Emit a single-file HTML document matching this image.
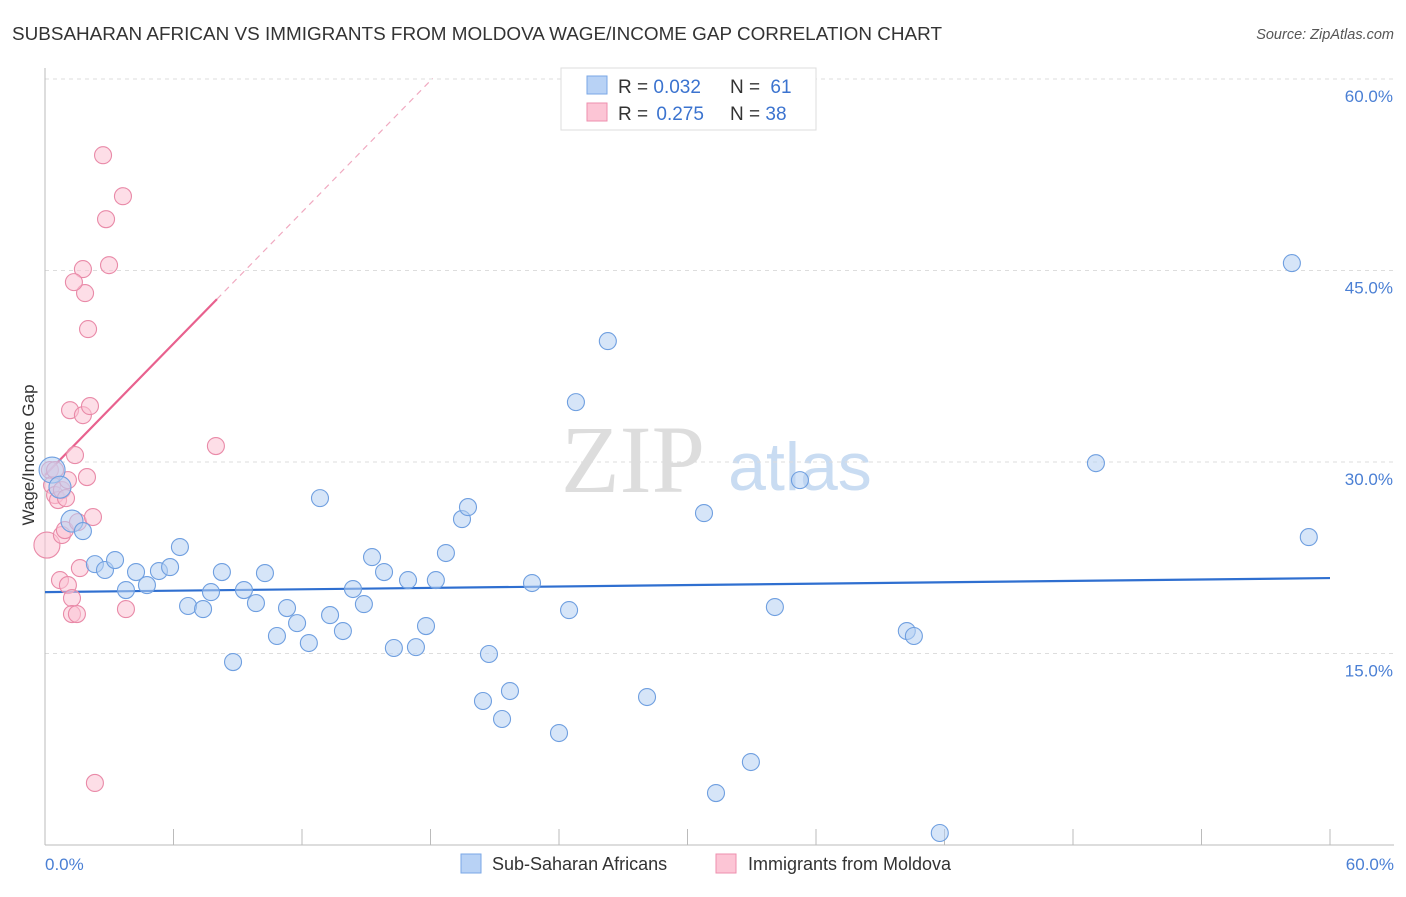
<!DOCTYPE html>
<html><head><meta charset="utf-8"><style>
body{margin:0;background:#fff;font-family:"Liberation Sans",sans-serif;}
svg text{font-family:"Liberation Sans",sans-serif;}
</style></head><body>
<svg id="chart" width="1406" height="892" viewBox="0 0 1406 892">
<text x="12" y="40" font-size="18" fill="#333" textLength="930" lengthAdjust="spacingAndGlyphs">SUBSAHARAN AFRICAN VS IMMIGRANTS FROM MOLDOVA WAGE/INCOME GAP CORRELATION CHART</text>
<text x="1394" y="39" font-size="14.5" fill="#555" font-style="italic" text-anchor="end">Source: ZipAtlas.com</text>
<text x="633" y="492" font-size="96" fill="#ddd" text-anchor="middle" style="font-family:'Liberation Serif',serif">ZIP</text>
<text x="800" y="490" font-size="68" fill="#c9dcf2" text-anchor="middle">atlas</text>
<g id="grid"></g>
<g id="axes"></g>
<g id="trends"></g>
<g id="points"></g>
<text transform="translate(34,455) rotate(-90)" font-size="17" fill="#333" text-anchor="middle">Wage/Income Gap</text>
<text x="45" y="870" font-size="17" fill="#4a7fd4">0.0%</text>
<text x="1394" y="870" font-size="17" fill="#4a7fd4" text-anchor="end">60.0%</text>
<g>
<rect x="561" y="68" width="255" height="62" fill="#fff" stroke="#ddd"/>
<rect x="587" y="76" width="20" height="18" fill="#b8d2f5" stroke="#7aa7e6"/>
<rect x="587" y="103" width="20" height="18" fill="#fcc5d5" stroke="#ee8fae"/>
<text x="618" y="93" font-size="19" fill="#333">R = <tspan fill="#3b73cf">0.032</tspan></text>
<text x="730" y="93" font-size="19" fill="#333">N = <tspan fill="#3b73cf" dx="5">61</tspan></text>
<text x="618" y="120" font-size="19" fill="#333">R = <tspan fill="#3b73cf" dx="3">0.275</tspan></text>
<text x="730" y="120" font-size="19" fill="#333">N = <tspan fill="#3b73cf">38</tspan></text>
</g>
<g>
<rect x="461" y="854" width="20" height="19" fill="#b8d2f5" stroke="#7aa7e6"/>
<text x="492" y="870" font-size="18" fill="#333">Sub-Saharan Africans</text>
<rect x="716" y="854" width="20" height="19" fill="#fcc5d5" stroke="#ee8fae"/>
<text x="748" y="870" font-size="18" fill="#333">Immigrants from Moldova</text>
</g>
</svg>
<script>
const blueX=[0.33,0.70,1.26,1.77,2.33,2.80,3.27,3.78,4.25,4.76,5.32,5.84,6.30,6.68,7.38,7.75,8.26,8.78,9.29,9.85,10.27,10.83,11.30,11.77,12.32,12.84,13.31,13.91,14.38,14.89,15.27,15.83,16.29,16.95,17.32,17.79,18.25,18.72,19.47,19.75,20.73,20.45,21.34,21.71,22.74,24.0,24.47,24.79,26.28,28.11,30.77,31.33,32.96,34.08,35.25,40.24,40.57,41.78,49.07,58.22,59.01];
const blueY=[29.37,28.03,25.37,24.59,22.0,21.54,22.32,19.97,21.38,20.36,21.46,21.77,23.34,18.72,18.48,19.81,21.38,14.33,19.97,18.95,21.3,16.37,18.56,17.38,15.82,27.17,18.01,16.76,20.05,18.87,22.55,21.38,15.43,20.75,15.5,17.15,20.75,22.87,25.53,26.47,14.96,11.28,9.87,12.06,20.52,8.77,18.4,34.69,39.47,11.59,26.0,4.07,6.5,18.64,28.58,16.76,16.37,0.94,29.91,45.58,24.12];
const pinkX=[0.09,0.23,0.33,0.47,0.61,0.79,0.98,1.07,1.17,0.70,1.07,1.26,1.26,1.49,0.79,0.93,1.40,1.54,1.63,1.77,1.87,1.77,1.35,2.01,2.10,1.96,2.24,2.71,2.85,2.99,3.64,3.78,7.98,2.33,0.47];
const pinkY=[23.49,29.37,28.19,27.41,27.02,27.8,27.17,28.58,34.06,20.75,20.36,19.34,18.09,18.09,24.28,24.67,30.54,25.29,21.69,33.67,43.23,45.11,44.09,40.41,34.38,28.82,25.69,54.03,49.02,45.42,50.82,18.48,31.25,4.86,29.37];
const blueBig=[0,1,2];
const pinkBig=[0];
const blueTrend=[19.81,0.0183];
const pinkTrend=[28.97,1.717];
const yTicks=[15,30,45,60];
const yTickLabels=["15.0%","30.0%","45.0%","60.0%"];
const xTicks=[0,6,12,18,24,30,36,42,48,54,60];
const NS="http://www.w3.org/2000/svg";
const X0=45,X1=1330,Y0=845,YTOP=79;
function sx(v){return X0+(v/60)*(X1-X0);}
function sy(v){return Y0-(v/60)*(Y0-YTOP);}
function mk(tag,attrs,parent){const e=document.createElementNS(NS,tag);for(const k in attrs)e.setAttribute(k,attrs[k]);document.getElementById(parent).appendChild(e);return e;}
yTicks.forEach((t,i)=>{
  const l=mk('line',{x1:X0,x2:1394,y1:sy(t),y2:sy(t),stroke:'#ddd','stroke-dasharray':'4,4'},'grid');
  
  
  const tx=mk('text',{x:1393,y:sy(t)+23,'font-size':17,fill:'#4a7fd4','text-anchor':'end'},'grid');
  tx.textContent=yTickLabels[i];
  
  
});
const ax=mk('line',{x1:X0,x2:X0,y1:68,y2:Y0,stroke:'#bbb'},'axes');


const bx=mk('line',{x1:X0,x2:1394,y1:Y0,y2:Y0,stroke:'#bbb'},'axes');


xTicks.forEach(t=>{
  const l=mk('line',{x1:sx(t),x2:sx(t),y1:Y0-16,y2:Y0,stroke:'#bbb'},'axes');
  
  
});
function addPts(xs,ys,big,fill,stroke,name){
  xs.forEach((x,i)=>{
    const r=big.includes(i)?(i===0?13:11):8.5;
    const c=mk('circle',{cx:sx(x),cy:sy(ys[i]),r:r,fill:fill,'fill-opacity':0.55,stroke:stroke,'stroke-width':1.1},'points');
    
    
  });
}
addPts(pinkX,pinkY,pinkBig,'#fbc3d3','#e98aa8','moldova-point');
addPts(blueX,blueY,blueBig,'#b5cff3','#6f9fe0','subsaharan-point');
const bt=mk('line',{x1:sx(0),y1:sy(blueTrend[0]),x2:sx(60),y2:sy(blueTrend[0]+blueTrend[1]*60),stroke:'#2f6fd0','stroke-width':2.2},'trends');


const pEnd=8.03,pDash=18.1;
const pt=mk('line',{x1:sx(0),y1:sy(pinkTrend[0]),x2:sx(pEnd),y2:sy(pinkTrend[0]+pinkTrend[1]*pEnd),stroke:'#e8618e','stroke-width':2.2},'trends');


const pd=mk('line',{x1:sx(pEnd),y1:sy(pinkTrend[0]+pinkTrend[1]*pEnd),x2:sx(pDash),y2:sy(pinkTrend[0]+pinkTrend[1]*pDash),stroke:'#f0a9c0','stroke-width':1.2,'stroke-dasharray':'6,5'},'trends');


</script>
</body></html>
